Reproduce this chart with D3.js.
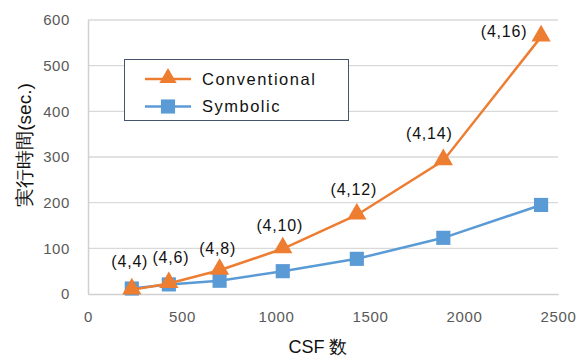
<!DOCTYPE html>
<html>
<head>
<meta charset="utf-8">
<script src="https://cdn.jsdelivr.net/npm/d3@7"></script>
<style>
  body { margin: 0; background: #fff; }
  svg { font-family: "Liberation Sans", Arial, sans-serif; }
  .tick text { fill: #595959; font-size: 15px; letter-spacing: 0.6px; }
</style>
</head>
<body>
<div id="chart"></div>
<script>
/* 実行時間 vs CSF 数 */

const csfCount = [233, 430, 700, 1036, 1430, 1890, 2410];
const conventional = [9, 23, 52, 99, 173, 292, 563];
const symbolic = [12, 21, 29, 50, 77, 123, 195];
const pointLabels = ["(4,4)", "(4,6)", "(4,8)", "(4,10)", "(4,12)", "(4,14)", "(4,16)"];
const seriesNames = ["Conventional", "Symbolic"];
const xTicks = [0, 500, 1000, 1500, 2000, 2500];
const yTicks = [0, 100, 200, 300, 400, 500, 600];

// label placement (dx, dy) relative to each triangle
const labelOffsets = [[-2, -28], [2, -26], [-2, -22], [-3, -23], [-3, -26], [-14, -27], [-37, -5]];

const height = 356,
    width = 577,
    margin = ({ top: 20, right: 19, bottom: 62, left: 88 });

const orange = "#ed7d31", blue = "#5b9bd5";

const svg = d3.select("#chart")
    .append("svg")
    .attr("width", width)
    .attr("height", height);

let x = d3.scaleLinear()
    .domain([0, 2500])
    .range([margin.left, width - margin.right]);

let y = d3.scaleLinear()
    .domain([0, 600])
    .range([height - margin.bottom, margin.top]);

// horizontal gridlines
svg.append("g")
    .selectAll("line")
    .data(yTicks.slice(1))
    .join("line")
    .attr("x1", x(0))
    .attr("x2", x(2500))
    .attr("y1", d => y(d))
    .attr("y2", d => y(d))
    .attr("stroke", "#d9d9d9")
    .attr("stroke-width", 1.3);

// x axis
svg.append("g")
    .attr("transform", `translate(0,${y(0)})`)
    .call(d3.axisBottom(x).tickValues(xTicks).tickFormat(d3.format("d")).tickSize(0).tickPadding(17))
    .call(g => g.select(".domain").attr("stroke", "#d0d0d0").attr("stroke-width", 1.5));

// y axis
svg.append("g")
    .attr("transform", `translate(${x(0)},0)`)
    .call(d3.axisLeft(y).tickValues(yTicks).tickFormat(d3.format("d")).tickSize(0).tickPadding(18))
    .call(g => g.select(".domain").attr("stroke", "#d0d0d0").attr("stroke-width", 1.5));

svg.selectAll(".tick text").attr("font-family", "'Liberation Sans', Arial, sans-serif");

// axis titles
svg.append("text")
    .attr("x", 318)
    .attr("y", 353)
    .attr("text-anchor", "middle")
    .attr("font-size", 18)
    .attr("fill", "#111")
    .text("CSF 数");

svg.append("text")
    .attr("transform", "translate(31,145) rotate(-90)")
    .attr("text-anchor", "middle")
    .attr("font-size", 19)
    .attr("fill", "#111")
    .text("実行時間(sec.)");

let line = d3.line()
    .x((d, i) => x(csfCount[i]))
    .y(d => y(d));

const tri = d3.symbol().type(d3.symbolTriangle).size(160);
const sq = d3.symbol().type(d3.symbolSquare).size(200);

// symbolic series
svg.append("path")
    .datum(symbolic)
    .attr("d", line)
    .attr("fill", "none")
    .attr("stroke", blue)
    .attr("stroke-width", 2.5);

svg.append("g")
    .selectAll("path")
    .data(symbolic)
    .join("path")
    .attr("d", sq)
    .attr("transform", (d, i) => `translate(${x(csfCount[i])},${y(d)})`)
    .attr("fill", blue);

// conventional series
svg.append("path")
    .datum(conventional)
    .attr("d", line)
    .attr("fill", "none")
    .attr("stroke", orange)
    .attr("stroke-width", 2.5);

svg.append("g")
    .selectAll("path")
    .data(conventional)
    .join("path")
    .attr("d", tri)
    .attr("transform", (d, i) => `translate(${x(csfCount[i])},${y(d) - 1})`)
    .attr("fill", orange);

// data labels
svg.append("g")
    .selectAll("text")
    .data(conventional)
    .join("text")
    .attr("x", (d, i) => x(csfCount[i]) + labelOffsets[i][0])
    .attr("y", (d, i) => y(d) + labelOffsets[i][1])
    .attr("dy", "0.35em")
    .attr("text-anchor", "middle")
    .attr("font-size", 16)
    .attr("letter-spacing", 0.8)
    .attr("fill", "#111")
    .text((d, i) => pointLabels[i]);

// legend
const legend = svg.append("g");
legend.append("rect")
    .attr("x", 124.5)
    .attr("y", 59.5)
    .attr("width", 224)
    .attr("height", 61)
    .attr("fill", "#fff")
    .attr("stroke", "#44546a")
    .attr("stroke-width", 1);

const rows = legend.selectAll("g")
    .data(seriesNames)
    .join("g")
    .attr("transform", (d, i) => `translate(0,${79 + i * 27.5})`);

rows.append("line")
    .attr("x1", 145)
    .attr("x2", 191)
    .attr("stroke", (d, i) => i === 0 ? orange : blue)
    .attr("stroke-width", 2.5);

rows.append("path")
    .attr("d", (d, i) => i === 0 ? d3.symbol().type(d3.symbolTriangle).size(130)() : d3.symbol().type(d3.symbolSquare).size(200)())
    .attr("transform", (d, i) => `translate(168,${i === 0 ? -1 : 0})`)
    .attr("fill", (d, i) => i === 0 ? orange : blue);

rows.append("text")
    .attr("x", 202)
    .attr("dy", "0.35em")
    .attr("font-size", 16.5)
    .attr("letter-spacing", 1.5)
    .attr("fill", "#111")
    .text(d => d);
</script>
</body>
</html>
